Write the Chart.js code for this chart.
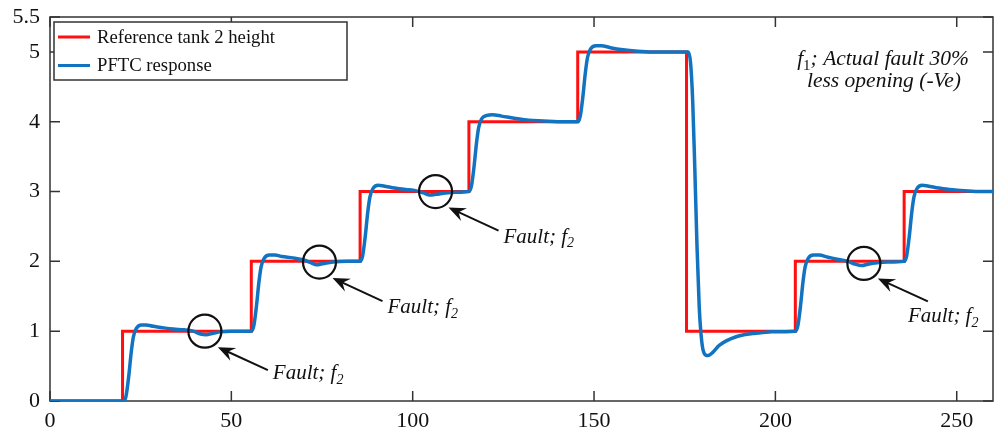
<!DOCTYPE html>
<html>
<head>
<meta charset="utf-8">
<title>PFTC response</title>
<script src="https://cdn.jsdelivr.net/npm/chart.js@4.4.1/dist/chart.umd.min.js"></script>
<style>
  html, body { margin: 0; padding: 0; background: #fff; overflow: hidden; }
  #wrap { width: 1003px; height: 437px; position: relative; }
  canvas { display: block; }
</style>
</head>
<body>
<div id="wrap"><canvas id="tankChart"></canvas></div>
<script>
// Tank 2 height: reference steps vs PFTC response, fault f2 markers.

const xTicks = [0, 50, 100, 150, 200, 250];
const yTicks = [0, 1, 2, 3, 4, 5, 5.5];

// reference setpoint (held until next change)
const refTimes = [0, 20, 55.5, 85.5, 115.5, 145.5, 175.5, 205.5, 235.5, 260];
const refLevels = [0, 1, 2, 3, 4, 5, 1, 2, 3, 3];

// PFTC response
const respTimes = [
  0, 20.5,
  21.0, 21.7, 22.4, 23.0, 23.8, 25.2, 26.5, 28.5, 31, 34, 37, 39.5, 41.5, 43, 45, 47, 50, 55.5,
  56.2, 56.9, 57.6, 58.2, 59, 60.5, 62, 64, 67, 70, 72, 73.5, 75.5, 78, 82, 85.5,
  86.2, 86.9, 87.6, 88.2, 89, 90.5, 92, 95, 98, 101, 103, 104.7, 106.5, 109, 112, 115.5,
  116.2, 116.9, 117.6, 118.2, 119, 120.5, 122, 124.5, 128, 132, 136, 140, 145.5,
  146.2, 146.9, 147.6, 148.2, 149, 150.5, 152, 154.5, 158, 162, 166, 176,
  176.6, 177.2, 177.8, 178.4, 179.0, 179.7, 180.4, 181.4, 182.6, 184.6, 189.2, 193.7, 198.3, 205.5,
  206.2, 206.9, 207.6, 208.2, 209, 210.5, 212, 214.5, 217, 220, 222, 223.8, 225.5, 228, 231, 235.5,
  236.2, 236.9, 237.6, 238.2, 239, 240.5, 242, 245, 248, 252, 256, 260
];
const respValues = [
  0, 0,
  0.08, 0.35, 0.70, 0.92, 1.04, 1.09, 1.09, 1.07, 1.05, 1.03, 1.02, 1.00, 0.96, 0.95, 0.97, 0.99, 1.00, 1.00,
  1.08, 1.35, 1.70, 1.92, 2.04, 2.09, 2.09, 2.07, 2.05, 2.02, 1.98, 1.95, 1.97, 1.99, 2.00, 2.00,
  2.08, 2.35, 2.70, 2.92, 3.04, 3.09, 3.08, 3.05, 3.03, 3.01, 2.98, 2.95, 2.96, 2.98, 2.99, 3.00,
  3.08, 3.35, 3.70, 3.92, 4.04, 4.09, 4.10, 4.08, 4.05, 4.02, 4.01, 4.00, 4.00,
  4.08, 4.35, 4.70, 4.92, 5.04, 5.09, 5.09, 5.06, 5.03, 5.01, 5.00, 5.00,
  4.85, 4.30, 3.30, 2.20, 1.35, 0.85, 0.68, 0.65, 0.69, 0.80, 0.92, 0.965, 0.99, 1.00,
  1.08, 1.35, 1.70, 1.92, 2.04, 2.09, 2.09, 2.06, 2.03, 2.00, 1.96, 1.94, 1.96, 1.98, 1.99, 2.00,
  2.08, 2.35, 2.70, 2.92, 3.04, 3.09, 3.08, 3.05, 3.03, 3.01, 3.00, 3.00
];

// fault f2 markers (circled on the response)
const faultTimes = [42.7, 74.3, 106.3, 224.4];
const faultValues = [1.0, 1.99, 3.0, 1.97];

const SERIF = "'Liberation Serif', 'Times New Roman', serif";
const RED = "#ff1010";
const BLUE = "#1273c0";

// pixel offsets from each circle: arrow tip, arrow tail, label (left, middle)
const faultLabelOffsets = [
  { tip: [13, 16], tail: [63, 39], text: [68, 41] },
  { tip: [13, 16], tail: [63, 39], text: [68, 44] },
  { tip: [13, 16], tail: [63, 39], text: [68, 44] },
  { tip: [14, 15], tail: [64, 38], text: [44, 52] }
];

function pairs(xs, ys) {
  return xs.map((x, i) => ({ x, y: ys[i] }));
}

// text with subscript pieces: [text, isSub, upright]
function drawRich(ctx, parts, x, y, size, align) {
  const subSize = Math.round(size * 0.68);
  const fontOf = p => (p[2] ? "" : "italic ") + (p[1] ? subSize : size) + "px " + SERIF;
  let total = 0;
  parts.forEach(p => {
    ctx.font = fontOf(p);
    total += ctx.measureText(p[0]).width;
  });
  let cx = align === "center" ? x - total / 2 : x;
  ctx.textAlign = "left";
  ctx.textBaseline = "alphabetic";
  parts.forEach(p => {
    ctx.font = fontOf(p);
    ctx.fillText(p[0], cx, p[1] ? y + size * 0.22 : y);
    cx += ctx.measureText(p[0]).width;
  });
}

function arrow(ctx, x0, y0, x1, y1) {
  const ang = Math.atan2(y1 - y0, x1 - x0);
  const len = 17, half = 7;
  ctx.beginPath();
  ctx.moveTo(x0, y0);
  ctx.lineTo(x1 - Math.cos(ang) * 8, y1 - Math.sin(ang) * 8);
  ctx.stroke();
  const bx = x1 - Math.cos(ang) * len, by = y1 - Math.sin(ang) * len;
  const nx = x1 - Math.cos(ang) * (len - 6), ny = y1 - Math.sin(ang) * (len - 6);
  ctx.beginPath();
  ctx.moveTo(x1, y1);
  ctx.lineTo(bx - Math.sin(ang) * half, by + Math.cos(ang) * half);
  ctx.lineTo(nx, ny);
  ctx.lineTo(bx + Math.sin(ang) * half, by - Math.cos(ang) * half);
  ctx.closePath();
  ctx.fill();
}

// box with inward ticks on all four sides
const framePlugin = {
  id: "frame",
  beforeDatasetsDraw(chart) {
    const { ctx, chartArea: a, scales: { x, y } } = chart;
    ctx.save();
    ctx.strokeStyle = "#333";
    ctx.lineWidth = 1.5;
    ctx.strokeRect(a.left, a.top, a.right - a.left, a.bottom - a.top);
    ctx.beginPath();
    x.ticks.forEach(t => {
      const px = x.getPixelForValue(t.value);
      ctx.moveTo(px, a.bottom); ctx.lineTo(px, a.bottom - 10);
      ctx.moveTo(px, a.top); ctx.lineTo(px, a.top + 10);
    });
    y.ticks.forEach(t => {
      const py = y.getPixelForValue(t.value);
      ctx.moveTo(a.left, py); ctx.lineTo(a.left + 10, py);
      ctx.moveTo(a.right, py); ctx.lineTo(a.right - 10, py);
    });
    ctx.stroke();
    ctx.restore();
  }
};

// legend box + annotations
const notesPlugin = {
  id: "notes",
  afterDatasetsDraw(chart) {
    const { ctx, chartArea: a, scales: { x, y } } = chart;
    ctx.save();

    // legend
    const lx = a.left + 4, ly = a.top + 5, lw = 293, lh = 58;
    ctx.fillStyle = "#fff";
    ctx.fillRect(lx, ly, lw, lh);
    ctx.strokeStyle = "#333";
    ctx.lineWidth = 1.5;
    ctx.strokeRect(lx, ly, lw, lh);
    const ds = chart.data.datasets;
    [0, 1].forEach(i => {
      const yy = ly + 15 + i * 28.5;
      ctx.strokeStyle = ds[i].borderColor;
      ctx.lineWidth = 3;
      ctx.beginPath();
      ctx.moveTo(lx + 4, yy);
      ctx.lineTo(lx + 36, yy);
      ctx.stroke();
      ctx.fillStyle = "#111";
      ctx.font = "18.7px " + SERIF;
      ctx.textAlign = "left";
      ctx.textBaseline = "middle";
      ctx.fillText(ds[i].label, lx + 43, yy + 1);
    });

    // f1 note, top right
    ctx.fillStyle = "#111";
    drawRich(ctx, [["f"], ["1", true, true], ["; Actual fault 30%"]], 883, 65, 21.5, "center");
    drawRich(ctx, [["less opening (-Ve)"]], 884, 87, 21.5, "center");

    // fault arrows and labels
    ctx.strokeStyle = "#111";
    ctx.fillStyle = "#111";
    ctx.lineWidth = 2;
    faultTimes.forEach((t, i) => {
      const cx = x.getPixelForValue(t), cy = y.getPixelForValue(faultValues[i]);
      const o = faultLabelOffsets[i];
      arrow(ctx, cx + o.tail[0], cy + o.tail[1], cx + o.tip[0], cy + o.tip[1]);
      drawRich(ctx, [["Fault; f"], ["2", true]], cx + o.text[0], cy + o.text[1] + 7, 21, "left");
    });
    ctx.restore();
  }
};

new Chart(document.getElementById("tankChart"), {
  type: "line",
  data: {
    datasets: [
      {
        label: "Reference tank 2 height",
        data: pairs(refTimes, refLevels),
        borderColor: RED,
        borderWidth: 3,
        stepped: "before",
        pointRadius: 0,
        order: 3
      },
      {
        label: "PFTC response",
        data: pairs(respTimes, respValues),
        borderColor: BLUE,
        borderWidth: 3.5,
        cubicInterpolationMode: "monotone",
        pointRadius: 0,
        order: 2
      },
      {
        label: "Fault f2",
        data: pairs(faultTimes, faultValues),
        showLine: false,
        pointStyle: "circle",
        pointRadius: 16.5,
        pointBorderWidth: 2.2,
        pointBorderColor: "#111",
        pointBackgroundColor: "rgba(0,0,0,0)",
        order: 1
      }
    ]
  },
  options: {
    responsive: true,
    maintainAspectRatio: false,
    animation: false,
    layout: { autoPadding: false, padding: { left: 0, right: 10, top: 17, bottom: 0 } },
    plugins: {
      legend: { display: false },
      tooltip: { enabled: false }
    },
    scales: {
      x: {
        type: "linear",
        min: 0,
        max: 260,
        afterBuildTicks: s => { s.ticks = xTicks.map(v => ({ value: v })); },
        afterFit: s => { s.height = 36; s.paddingLeft = 0; s.paddingRight = 0; },
        grid: { display: false, drawTicks: false },
        border: { display: false },
        ticks: { padding: 7, color: "#111", font: { family: SERIF, size: 22 } }
      },
      y: {
        min: 0,
        max: 5.5,
        afterBuildTicks: s => { s.ticks = yTicks.map(v => ({ value: v })); },
        afterFit: s => { s.width = 50; s.paddingTop = 0; s.paddingBottom = 0; },
        grid: { display: false, drawTicks: false },
        border: { display: false },
        ticks: { padding: 10, color: "#111", font: { family: SERIF, size: 22 } }
      }
    }
  },
  plugins: [framePlugin, notesPlugin]
});
</script>
</body>
</html>
